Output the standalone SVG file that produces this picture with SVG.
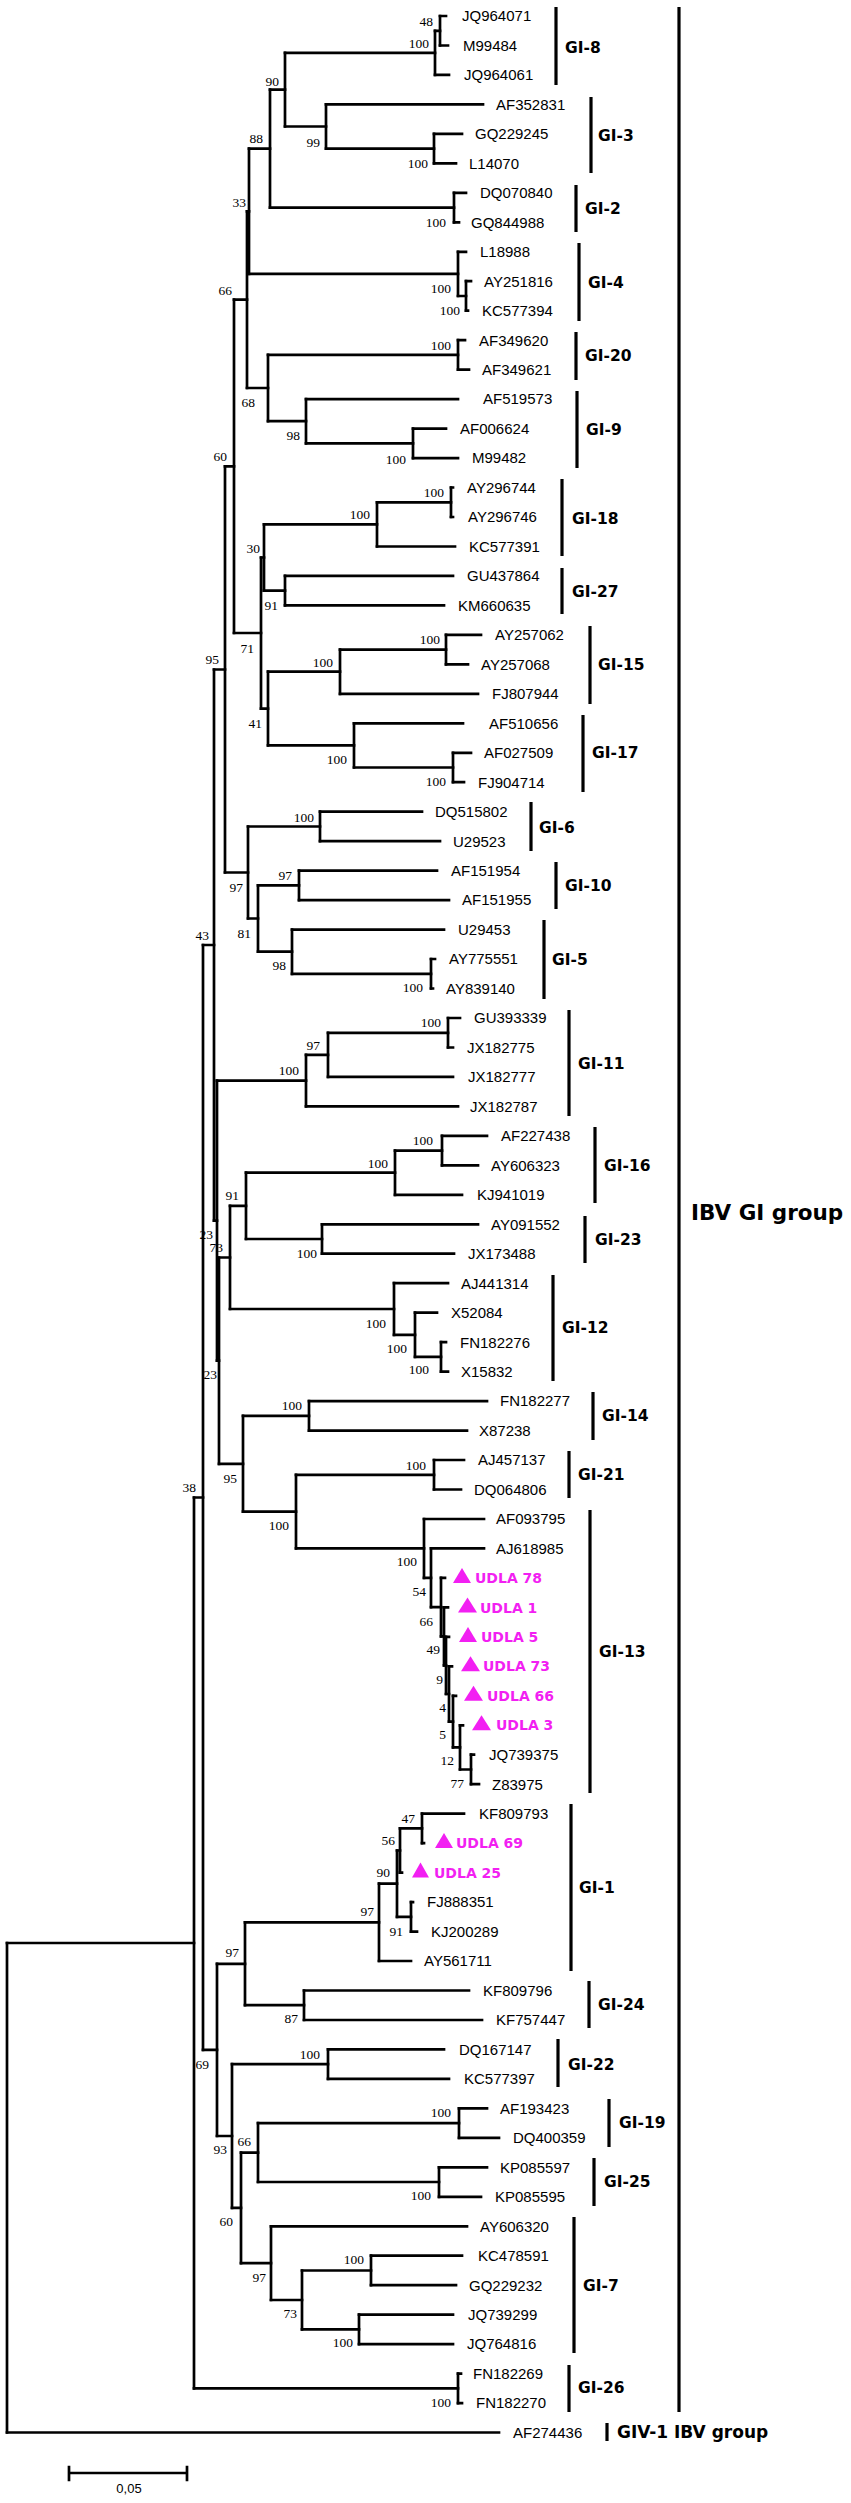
<svg xmlns="http://www.w3.org/2000/svg" width="851" height="2503" viewBox="0 0 851 2503">
<style>
.br{fill:none;stroke:#000;stroke-width:2.7;stroke-linecap:square}
.bar{stroke:#000;stroke-width:3.2}
.t{font-family:"Liberation Sans",Arial,sans-serif;font-size:15px;fill:#000}
.s{font-family:"Liberation Serif","Times New Roman",serif;font-size:13.5px;fill:#000;text-anchor:end}
.g{font-family:"DejaVu Sans",Verdana,sans-serif;font-weight:bold;font-size:15.5px;fill:#000}
.u{font-family:"DejaVu Sans",Verdana,sans-serif;font-weight:bold;font-size:14px;fill:#f21ff2}
.tri{fill:#f21ff2}
</style>
<rect width="851" height="2503" fill="#fff"/>
<g id="connectors">
<path class="br" d="M440 16V45.5M435 30.8V74.9M434 133.9V163.4M326 104.4V148.6M285 52.8V126.5M454 192.8V222.3M270 89.7V207.6M466 281.2V310.7M458 251.8V296M249 148.6V273.9M458 340.2V369.6M413 428.6V458.1M306 399.1V443.3M268 354.9V421.2M247 211.3V388M451 487.5V517M377 502.3V546.5M285 575.9V605.4M264 524.4V590.7M446 634.9V664.3M340 649.6V693.8M453 752.8V782.2M354 723.3V767.5M268 671.7V745.4M261 557.5V708.6M234 299.7V633M320 811.7V841.2M299 870.6V900.1M431 959V988.5M292 929.6V973.8M258 885.4V951.7M248 826.5V918.5M225 466.4V872.5M448 1018V1047.5M328 1032.8V1076.9M306 1054.8V1106.4M442 1135.9V1165.3M395 1150.6V1194.8M322 1224.3V1253.7M246 1172.7V1239M441 1342.2V1371.6M415 1312.7V1356.9M394 1283.2V1334.8M230 1205.9V1309M309 1401.1V1430.6M434 1460V1489.5M471 1754.7V1784.2M460 1725.3V1769.5M453 1695.8V1747.4M449 1666.3V1721.6M446 1636.9V1694M444 1607.4V1665.4M441 1577.9V1636.4M431 1548.4V1607.2M424 1519V1577.8M296 1474.8V1548.4M243 1415.9V1511.6M219 1257.5V1463.8M217 1080.6V1360.6M214 669.5V1220.6M422 1813.7V1843.1M400 1828.4V1872.6M411 1902.1V1931.6M397 1850.5V1916.8M379 1883.7V1961M304 1990.5V2020M245 1922.3V2005.2M328 2049.4V2078.9M459 2108.4V2137.8M439 2167.3V2196.8M258 2123.1V2182M371 2255.7V2285.2M359 2314.7V2344.1M302 2270.5V2329.4M271 2226.3V2300M241 2152.6V2263.1M232 2064.2V2207.9M217 1963.8V2136M203 945V2049.9M458 2373.6V2403.1M194 1497.5V2388.4M7 1943V2432.5"/>
<path class="br" d="M440 16H446M440 45.5H448M435 30.8H440M435 74.9H449M434 133.9H462M434 163.4H456M326 104.4H483M326 148.6H434M285 52.8H435M285 126.5H326M454 192.8H466M454 222.3H459M270 89.7H285M270 207.6H454M466 281.2H471M466 310.7H468M458 251.8H466M458 296H466M249 148.6H270M249 273.9H458M458 340.2H465M458 369.6H469M413 428.6H446M413 458.1H458M306 399.1H458M306 443.3H413M268 354.9H458M268 421.2H306M247 211.3H249M247 388H268M451 487.5H453M451 517H453M377 502.3H451M377 546.5H455M285 575.9H453M285 605.4H444M264 524.4H377M264 590.7H285M446 634.9H481M446 664.3H468M340 649.6H446M340 693.8H478M453 752.8H471M453 782.2H464M354 723.3H463M354 767.5H453M268 671.7H340M268 745.4H354M261 557.5H264M261 708.6H268M234 299.7H247M234 633H261M320 811.7H422M320 841.2H440M299 870.6H437M299 900.1H449M431 959H435M431 988.5H433M292 929.6H444M292 973.8H431M258 885.4H299M258 951.7H292M248 826.5H320M248 918.5H258M225 466.4H234M225 872.5H248M448 1018H460M448 1047.5H453M328 1032.8H448M328 1076.9H453M306 1054.8H328M306 1106.4H458M442 1135.9H487M442 1165.3H478M395 1150.6H442M395 1194.8H462M322 1224.3H478M322 1253.7H454M246 1172.7H395M246 1239H322M441 1342.2H446M441 1371.6H448M415 1312.7H437M415 1356.9H441M394 1283.2H448M394 1334.8H415M230 1205.9H246M230 1309H394M309 1401.1H487M309 1430.6H467M434 1460H464M434 1489.5H461M471 1754.7H474M471 1784.2H479M460 1725.3H463M460 1769.5H471M453 1695.8H456M453 1747.4H460M449 1666.3H452M449 1721.6H453M446 1636.9H449M446 1694H449M444 1607.4H448M444 1665.4H446M441 1577.9H445M441 1636.4H444M431 1548.4H484M431 1607.2H441M424 1519H484M424 1577.8H431M296 1474.8H434M296 1548.4H424M243 1415.9H309M243 1511.6H296M219 1257.5H230M219 1463.8H243M217 1080.6H306M217 1360.6H219M214 669.5H225M214 1220.6H217M422 1813.7H464M422 1843.1H424M400 1828.4H422M400 1872.6H402M411 1902.1H413M411 1931.6H417M397 1850.5H400M397 1916.8H411M379 1883.7H397M379 1961H411M304 1990.5H469M304 2020H482M245 1922.3H379M245 2005.2H304M328 2049.4H444M328 2078.9H449M459 2108.4H487M459 2137.8H499M439 2167.3H487M439 2196.8H481M258 2123.1H459M258 2182H439M371 2255.7H462M371 2285.2H456M359 2314.7H453M359 2344.1H453M302 2270.5H371M302 2329.4H359M271 2226.3H467M271 2300H302M241 2152.6H258M241 2263.1H271M232 2064.2H328M232 2207.9H241M217 1963.8H245M217 2136H232M203 945H214M203 2049.9H217M458 2373.6H461M458 2403.1H462M194 1497.5H203M194 2388.4H458M7 1943H194M7 2432.5H499"/>
</g>
<g id="support">
<text class="s" x="433" y="25.5">48</text><text class="s" x="429" y="47.5">100</text><text class="s" x="279" y="85.5">90</text><text class="s" x="320" y="146.5">99</text><text class="s" x="428" y="167.5">100</text><text class="s" x="263" y="142.5">88</text><text class="s" x="446" y="226.5">100</text><text class="s" x="246" y="206.5">33</text><text class="s" x="232" y="294.5">66</text><text class="s" x="451" y="292.5">100</text><text class="s" x="460" y="314.5">100</text><text class="s" x="451" y="349.5">100</text><text class="s" x="255" y="406.5">68</text><text class="s" x="300" y="439.5">98</text><text class="s" x="406" y="463.5">100</text><text class="s" x="227" y="460.5">60</text><text class="s" x="260" y="552.5">30</text><text class="s" x="444" y="496.5">100</text><text class="s" x="370" y="518.5">100</text><text class="s" x="278" y="609.5">91</text><text class="s" x="254" y="652.5">71</text><text class="s" x="219" y="663.5">95</text><text class="s" x="440" y="643.5">100</text><text class="s" x="333" y="666.5">100</text><text class="s" x="262" y="727.5">41</text><text class="s" x="347" y="763.5">100</text><text class="s" x="446" y="785.5">100</text><text class="s" x="314" y="821.5">100</text><text class="s" x="292" y="879.5">97</text><text class="s" x="243" y="891.5">97</text><text class="s" x="251" y="937.5">81</text><text class="s" x="286" y="969.5">98</text><text class="s" x="423" y="991.5">100</text><text class="s" x="209" y="939.5">43</text><text class="s" x="441" y="1026.5">100</text><text class="s" x="320" y="1049.5">97</text><text class="s" x="299" y="1074.5">100</text><text class="s" x="433" y="1144.5">100</text><text class="s" x="388" y="1167.5">100</text><text class="s" x="239" y="1199.5">91</text><text class="s" x="213" y="1238.5">23</text><text class="s" x="223" y="1251.5">73</text><text class="s" x="317" y="1257.5">100</text><text class="s" x="386" y="1327.5">100</text><text class="s" x="407" y="1352.5">100</text><text class="s" x="429" y="1373.5">100</text><text class="s" x="217" y="1378.5">23</text><text class="s" x="302" y="1409.5">100</text><text class="s" x="426" y="1469.5">100</text><text class="s" x="237" y="1482.5">95</text><text class="s" x="196" y="1491.5">38</text><text class="s" x="289" y="1529.5">100</text><text class="s" x="417" y="1565.5">100</text><text class="s" x="426" y="1595.5">54</text><text class="s" x="433" y="1625.5">66</text><text class="s" x="440" y="1653.5">49</text><text class="s" x="443" y="1683.5">9</text><text class="s" x="446" y="1711.5">4</text><text class="s" x="446" y="1738.5">5</text><text class="s" x="454" y="1764.5">12</text><text class="s" x="464" y="1787.5">77</text><text class="s" x="415" y="1822.5">47</text><text class="s" x="395" y="1844.5">56</text><text class="s" x="390" y="1876.5">90</text><text class="s" x="374" y="1915.5">97</text><text class="s" x="403" y="1935.5">91</text><text class="s" x="239" y="1956.5">97</text><text class="s" x="298" y="2022.5">87</text><text class="s" x="320" y="2058.5">100</text><text class="s" x="209" y="2068.5">69</text><text class="s" x="451" y="2116.5">100</text><text class="s" x="251" y="2145.5">66</text><text class="s" x="227" y="2153.5">93</text><text class="s" x="431" y="2199.5">100</text><text class="s" x="233" y="2225.5">60</text><text class="s" x="364" y="2263.5">100</text><text class="s" x="266" y="2281.5">97</text><text class="s" x="297" y="2317.5">73</text><text class="s" x="353" y="2346.5">100</text><text class="s" x="451" y="2406.5">100</text>
</g>
<g id="leaves">
<g id="n-JQ964071"><text class="t" x="462" y="21.3">JQ964071</text></g>
<g id="n-M99484"><text class="t" x="463" y="50.8">M99484</text></g>
<g id="n-JQ964061"><text class="t" x="464" y="80.2">JQ964061</text></g>
<g id="n-AF352831"><text class="t" x="496" y="109.7">AF352831</text></g>
<g id="n-GQ229245"><text class="t" x="475" y="139.2">GQ229245</text></g>
<g id="n-L14070"><text class="t" x="469" y="168.7">L14070</text></g>
<g id="n-DQ070840"><text class="t" x="480" y="198.1">DQ070840</text></g>
<g id="n-GQ844988"><text class="t" x="471" y="227.6">GQ844988</text></g>
<g id="n-L18988"><text class="t" x="480" y="257.1">L18988</text></g>
<g id="n-AY251816"><text class="t" x="484" y="286.5">AY251816</text></g>
<g id="n-KC577394"><text class="t" x="482" y="316">KC577394</text></g>
<g id="n-AF349620"><text class="t" x="479" y="345.5">AF349620</text></g>
<g id="n-AF349621"><text class="t" x="482" y="374.9">AF349621</text></g>
<g id="n-AF519573"><text class="t" x="483" y="404.4">AF519573</text></g>
<g id="n-AF006624"><text class="t" x="460" y="433.9">AF006624</text></g>
<g id="n-M99482"><text class="t" x="472" y="463.4">M99482</text></g>
<g id="n-AY296744"><text class="t" x="467" y="492.8">AY296744</text></g>
<g id="n-AY296746"><text class="t" x="468" y="522.3">AY296746</text></g>
<g id="n-KC577391"><text class="t" x="469" y="551.8">KC577391</text></g>
<g id="n-GU437864"><text class="t" x="467" y="581.2">GU437864</text></g>
<g id="n-KM660635"><text class="t" x="458" y="610.7">KM660635</text></g>
<g id="n-AY257062"><text class="t" x="495" y="640.2">AY257062</text></g>
<g id="n-AY257068"><text class="t" x="481" y="669.6">AY257068</text></g>
<g id="n-FJ807944"><text class="t" x="492" y="699.1">FJ807944</text></g>
<g id="n-AF510656"><text class="t" x="489" y="728.6">AF510656</text></g>
<g id="n-AF027509"><text class="t" x="484" y="758.1">AF027509</text></g>
<g id="n-FJ904714"><text class="t" x="478" y="787.5">FJ904714</text></g>
<g id="n-DQ515802"><text class="t" x="435" y="817">DQ515802</text></g>
<g id="n-U29523"><text class="t" x="453" y="846.5">U29523</text></g>
<g id="n-AF151954"><text class="t" x="451" y="875.9">AF151954</text></g>
<g id="n-AF151955"><text class="t" x="462" y="905.4">AF151955</text></g>
<g id="n-U29453"><text class="t" x="458" y="934.9">U29453</text></g>
<g id="n-AY775551"><text class="t" x="449" y="964.3">AY775551</text></g>
<g id="n-AY839140"><text class="t" x="446" y="993.8">AY839140</text></g>
<g id="n-GU393339"><text class="t" x="474" y="1023.3">GU393339</text></g>
<g id="n-JX182775"><text class="t" x="467" y="1052.8">JX182775</text></g>
<g id="n-JX182777"><text class="t" x="468" y="1082.2">JX182777</text></g>
<g id="n-JX182787"><text class="t" x="470" y="1111.7">JX182787</text></g>
<g id="n-AF227438"><text class="t" x="501" y="1141.2">AF227438</text></g>
<g id="n-AY606323"><text class="t" x="491" y="1170.6">AY606323</text></g>
<g id="n-KJ941019"><text class="t" x="477" y="1200.1">KJ941019</text></g>
<g id="n-AY091552"><text class="t" x="491" y="1229.6">AY091552</text></g>
<g id="n-JX173488"><text class="t" x="468" y="1259">JX173488</text></g>
<g id="n-AJ441314"><text class="t" x="461" y="1288.5">AJ441314</text></g>
<g id="n-X52084"><text class="t" x="451" y="1318">X52084</text></g>
<g id="n-FN182276"><text class="t" x="460" y="1347.5">FN182276</text></g>
<g id="n-X15832"><text class="t" x="461" y="1376.9">X15832</text></g>
<g id="n-FN182277"><text class="t" x="500" y="1406.4">FN182277</text></g>
<g id="n-X87238"><text class="t" x="479" y="1435.9">X87238</text></g>
<g id="n-AJ457137"><text class="t" x="478" y="1465.3">AJ457137</text></g>
<g id="n-DQ064806"><text class="t" x="474" y="1494.8">DQ064806</text></g>
<g id="n-AF093795"><text class="t" x="496" y="1524.3">AF093795</text></g>
<g id="n-AJ618985"><text class="t" x="496" y="1553.7">AJ618985</text></g>
<g id="n-UDLA78"><polygon class="tri" points="453,1583 471,1583 462,1568"/><text class="u" x="475" y="1583">UDLA 78</text></g>
<g id="n-UDLA1"><polygon class="tri" points="458,1612.4 477,1612.4 467.5,1597.4"/><text class="u" x="480" y="1612.5">UDLA 1</text></g>
<g id="n-UDLA5"><polygon class="tri" points="459,1641.9 477,1641.9 468,1626.9"/><text class="u" x="481" y="1642">UDLA 5</text></g>
<g id="n-UDLA73"><polygon class="tri" points="461,1671.3 480,1671.3 470.5,1656.3"/><text class="u" x="483" y="1671.4">UDLA 73</text></g>
<g id="n-UDLA66"><polygon class="tri" points="464,1700.8 483,1700.8 473.5,1685.8"/><text class="u" x="487" y="1700.9">UDLA 66</text></g>
<g id="n-UDLA3"><polygon class="tri" points="472,1730.3 491,1730.3 481.5,1715.3"/><text class="u" x="496" y="1730.4">UDLA 3</text></g>
<g id="n-JQ739375"><text class="t" x="489" y="1760">JQ739375</text></g>
<g id="n-Z83975"><text class="t" x="492" y="1789.5">Z83975</text></g>
<g id="n-KF809793"><text class="t" x="479" y="1819">KF809793</text></g>
<g id="n-UDLA69"><polygon class="tri" points="435,1848.1 453,1848.1 444,1833.1"/><text class="u" x="456" y="1848.2">UDLA 69</text></g>
<g id="n-UDLA25"><polygon class="tri" points="412,1877.6 429,1877.6 420.5,1862.6"/><text class="u" x="434" y="1877.7">UDLA 25</text></g>
<g id="n-FJ888351"><text class="t" x="427" y="1907.4">FJ888351</text></g>
<g id="n-KJ200289"><text class="t" x="431" y="1936.9">KJ200289</text></g>
<g id="n-AY561711"><text class="t" x="424" y="1966.3">AY561711</text></g>
<g id="n-KF809796"><text class="t" x="483" y="1995.8">KF809796</text></g>
<g id="n-KF757447"><text class="t" x="496" y="2025.3">KF757447</text></g>
<g id="n-DQ167147"><text class="t" x="459" y="2054.7">DQ167147</text></g>
<g id="n-KC577397"><text class="t" x="464" y="2084.2">KC577397</text></g>
<g id="n-AF193423"><text class="t" x="500" y="2113.7">AF193423</text></g>
<g id="n-DQ400359"><text class="t" x="513" y="2143.1">DQ400359</text></g>
<g id="n-KP085597"><text class="t" x="500" y="2172.6">KP085597</text></g>
<g id="n-KP085595"><text class="t" x="495" y="2202.1">KP085595</text></g>
<g id="n-AY606320"><text class="t" x="480" y="2231.6">AY606320</text></g>
<g id="n-KC478591"><text class="t" x="478" y="2261">KC478591</text></g>
<g id="n-GQ229232"><text class="t" x="469" y="2290.5">GQ229232</text></g>
<g id="n-JQ739299"><text class="t" x="468" y="2320">JQ739299</text></g>
<g id="n-JQ764816"><text class="t" x="467" y="2349.4">JQ764816</text></g>
<g id="n-FN182269"><text class="t" x="473" y="2378.9">FN182269</text></g>
<g id="n-FN182270"><text class="t" x="476" y="2408.4">FN182270</text></g>
<g id="n-AF274436"><text class="t" x="513" y="2437.8">AF274436</text></g>
</g>
<g id="clades">
<g id="c-GI-8"><line class="bar" x1="556" y1="7" x2="556" y2="85"/><text class="g" x="565" y="52.7">GI-8</text></g>
<g id="c-GI-3"><line class="bar" x1="591" y1="97" x2="591" y2="173"/><text class="g" x="598" y="140.7">GI-3</text></g>
<g id="c-GI-2"><line class="bar" x1="576" y1="185" x2="576" y2="232"/><text class="g" x="585" y="213.7">GI-2</text></g>
<g id="c-GI-4"><line class="bar" x1="579" y1="243" x2="579" y2="321"/><text class="g" x="588" y="287.7">GI-4</text></g>
<g id="c-GI-20"><line class="bar" x1="576" y1="332" x2="576" y2="380"/><text class="g" x="585" y="360.7">GI-20</text></g>
<g id="c-GI-9"><line class="bar" x1="577" y1="391" x2="577" y2="468"/><text class="g" x="586" y="434.7">GI-9</text></g>
<g id="c-GI-18"><line class="bar" x1="562" y1="479" x2="562" y2="556"/><text class="g" x="572" y="523.7">GI-18</text></g>
<g id="c-GI-27"><line class="bar" x1="562" y1="568" x2="562" y2="614"/><text class="g" x="572" y="596.7">GI-27</text></g>
<g id="c-GI-15"><line class="bar" x1="590" y1="626" x2="590" y2="704"/><text class="g" x="598" y="669.7">GI-15</text></g>
<g id="c-GI-17"><line class="bar" x1="583" y1="715" x2="583" y2="792"/><text class="g" x="592" y="757.7">GI-17</text></g>
<g id="c-GI-6"><line class="bar" x1="531" y1="802" x2="531" y2="851"/><text class="g" x="539" y="832.7">GI-6</text></g>
<g id="c-GI-10"><line class="bar" x1="556" y1="862" x2="556" y2="909"/><text class="g" x="565" y="890.7">GI-10</text></g>
<g id="c-GI-5"><line class="bar" x1="544" y1="920" x2="544" y2="999"/><text class="g" x="552" y="964.7">GI-5</text></g>
<g id="c-GI-11"><line class="bar" x1="569" y1="1010" x2="569" y2="1116"/><text class="g" x="578" y="1068.7">GI-11</text></g>
<g id="c-GI-16"><line class="bar" x1="595" y1="1127" x2="595" y2="1203"/><text class="g" x="604" y="1170.7">GI-16</text></g>
<g id="c-GI-23"><line class="bar" x1="585" y1="1216" x2="585" y2="1263"/><text class="g" x="595" y="1244.7">GI-23</text></g>
<g id="c-GI-12"><line class="bar" x1="553" y1="1275" x2="553" y2="1381"/><text class="g" x="562" y="1332.7">GI-12</text></g>
<g id="c-GI-14"><line class="bar" x1="593" y1="1392" x2="593" y2="1440"/><text class="g" x="602" y="1420.7">GI-14</text></g>
<g id="c-GI-21"><line class="bar" x1="569" y1="1451" x2="569" y2="1498"/><text class="g" x="578" y="1479.7">GI-21</text></g>
<g id="c-GI-13"><line class="bar" x1="590" y1="1510" x2="590" y2="1793"/><text class="g" x="599" y="1656.7">GI-13</text></g>
<g id="c-GI-1"><line class="bar" x1="571" y1="1804" x2="571" y2="1971"/><text class="g" x="579" y="1892.7">GI-1</text></g>
<g id="c-GI-24"><line class="bar" x1="589" y1="1981" x2="589" y2="2028"/><text class="g" x="598" y="2009.7">GI-24</text></g>
<g id="c-GI-22"><line class="bar" x1="558" y1="2039" x2="558" y2="2087"/><text class="g" x="568" y="2069.7">GI-22</text></g>
<g id="c-GI-19"><line class="bar" x1="609" y1="2099" x2="609" y2="2147"/><text class="g" x="619" y="2127.7">GI-19</text></g>
<g id="c-GI-25"><line class="bar" x1="594" y1="2158" x2="594" y2="2206"/><text class="g" x="604" y="2186.7">GI-25</text></g>
<g id="c-GI-7"><line class="bar" x1="574" y1="2217" x2="574" y2="2353"/><text class="g" x="583" y="2290.7">GI-7</text></g>
<g id="c-GI-26"><line class="bar" x1="569" y1="2365" x2="569" y2="2412"/><text class="g" x="578" y="2392.7">GI-26</text></g>
<g id="c-IBV-GI"><line class="bar" x1="679" y1="7" x2="679" y2="2412"/><text class="g" x="691" y="1220" style="font-size:21.5px">IBV GI group</text></g>
<g id="c-GIV-1"><line class="bar" x1="607" y1="2423" x2="607" y2="2441"/><text class="g" x="617" y="2438" style="font-size:17px">GIV-1 IBV group</text></g>
</g>
<g id="scale">
<path class="br" d="M69 2473H187M69 2467V2480M187 2467V2480"/>
<text x="129" y="2493" text-anchor="middle" style="font-family:'Liberation Sans',Arial,sans-serif;font-size:13px">0,05</text>
</g>
</svg>
